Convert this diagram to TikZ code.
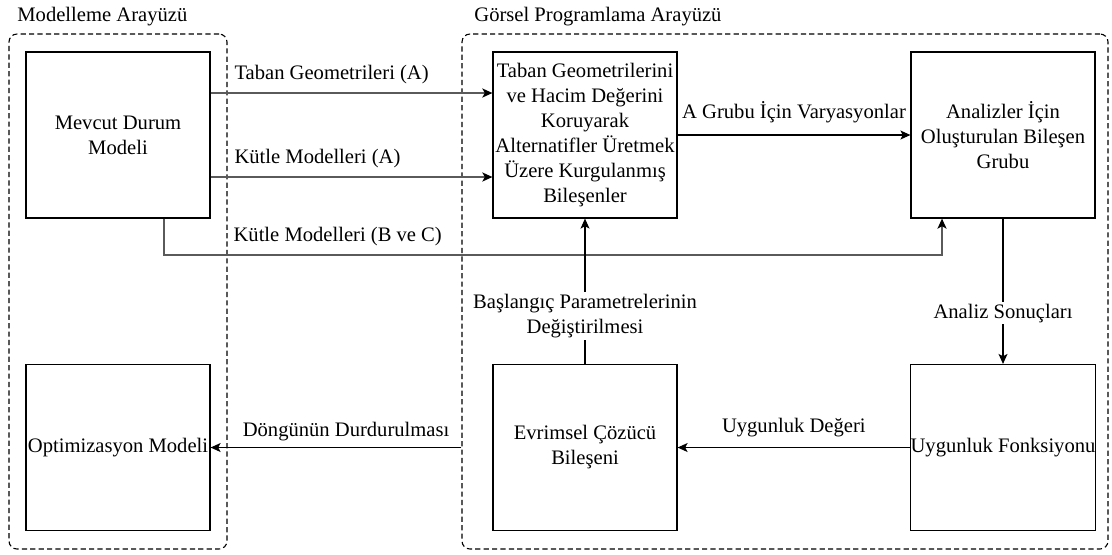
\documentclass[tikz,border=0pt]{standalone}
\usepackage{fontspec}
\setmainfont{LiberationSerif}[Extension=.ttf, UprightFont=*-Regular, BoldFont=*-Bold]
\usepackage{tikz}
\usetikzlibrary{arrows.meta}
\newcommand{\diafont}{\rmfamily\fontsize{10.3}{12.5}\selectfont}
\definecolor{lnkgray}{HTML}{5A5A5A}

\begin{document}
\begin{tikzpicture}[
  x=0.5pt, y=-0.5pt,
  box/.style={draw, line width=0.6pt, minimum width=92pt, minimum height=83pt, inner sep=0pt, align=center, font=\diafont},
  grp/.style={draw, line width=0.55pt, dash pattern=on 2.6pt off 1.6pt, rounded corners=4pt, minimum height=257.5pt, inner sep=0pt},
  lbl/.style={font=\diafont, inner sep=0pt, align=center},
  arr/.style={-{Stealth[length=5pt, width=4.5pt, inset=1.2pt]}, line width=0.55pt},
  garr/.style={-{Stealth[length=5pt, width=4.5pt, inset=1.2pt, color=black]}, line width=1.1pt, draw=lnkgray}
]
  \useasboundingbox (0,0) rectangle (1112,554);

  % groups
  \node[grp, minimum width=109pt] (modelleme) at (118,291.5) {};
  \node[grp, minimum width=323pt] (gorsel) at (785,291.5) {};
  \node[lbl, anchor=west] (modlbl) at (17,17) {Modelleme Arayüzü};
  \node[lbl, anchor=west] (gorlbl) at (474,17) {Görsel Programlama Arayüzü};

  \node[box] (mevcut) at (118,135) {Mevcut Durum\\Modeli};
  \node[box] (taban) at (585,135) {Taban Geometrilerini\\ve Hacim Değerini\\Koruyarak\\Alternatifler Üretmek\\Üzere Kurgulanmış\\Bileşenler};
  \node[box] (analiz) at (1003,135) {Analizler İçin\\Oluşturulan Bileşen\\Grubu};
  \node[box] (optim) at (118,447.5) {Optimizasyon Modeli};
  \node[box] (evrim) at (585,447.5) {Evrimsel Çözücü\\Bileşeni};
  \node[box] (uygun) at (1003,447.5) {Uygunluk Fonksiyonu};
  \coordinate (kb) at (942,255);

  \draw[garr] ([yshift=21pt]mevcut.east) -- ([yshift=21pt]taban.west)
    node[lbl, pos=0.081, anchor=south west, yshift=4pt] {Taban Geometrileri (A)};
  \draw[garr] ([yshift=-21pt]mevcut.east) -- ([yshift=-21pt]taban.west)
    node[lbl, pos=0.081, anchor=south west, yshift=4pt] {Kütle Modelleri (A)};
  \draw[garr] ([xshift=23pt]mevcut.south) |- (kb)
    node[lbl, pos=0.544, anchor=south west, yshift=4pt] {Kütle Modelleri (B ve C)}
    -- (kb |- analiz.south);

  \draw[arr] (taban) -- (analiz) node[lbl, midway, above=6pt] {A Grubu İçin Varyasyonlar};
  \draw[arr] (analiz) -- (uygun) node[lbl, pos=0.65, fill=white, inner sep=1pt] {Analiz Sonuçları};
  \draw[arr] (uygun) -- (evrim) node[lbl, midway, above=5pt] {Uygunluk Değeri};
  \draw[arr] (evrim) -- (taban) node[lbl, pos=0.33, fill=white, inner sep=1pt] {Başlangıç Parametrelerinin\\Değiştirilmesi};
  \draw[arr] (gorsel.west |- evrim) -- (optim.east) node[lbl, pos=0.46, above=3pt] {Döngünün Durdurulması};
\end{tikzpicture}
\end{document}
